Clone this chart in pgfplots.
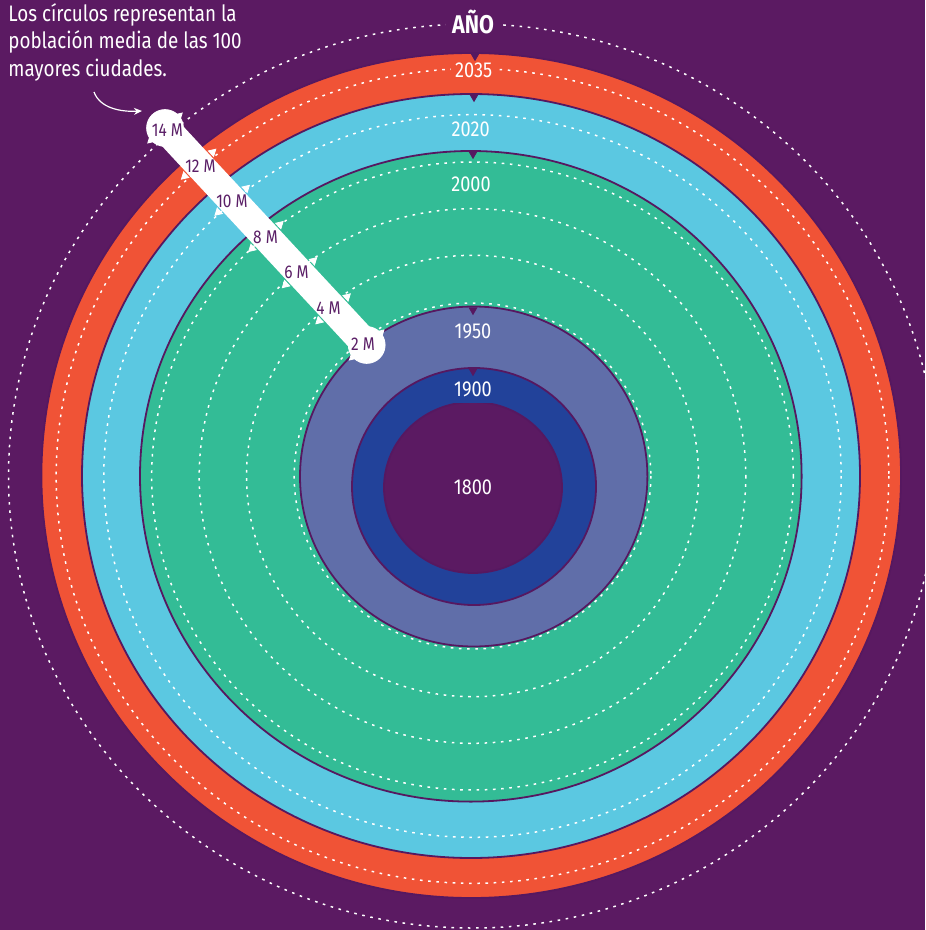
\documentclass[border=0pt]{standalone}
\usepackage{fontspec}
\setmainfont{Fira Sans}[FakeStretch=0.84]
\usepackage{pgfplots}
\usepackage{pgfplotstable}
\pgfplotsset{compat=1.18}
\usetikzlibrary{arrows.meta}

\definecolor{bg}{HTML}{5B1A62}
\definecolor{edge}{HTML}{561860}
\definecolor{c2035}{HTML}{F05336}
\definecolor{c2020}{HTML}{5BC8E1}
\definecolor{c2000}{HTML}{33BC96}
\definecolor{c1950}{HTML}{606EA9}
\definecolor{c1900}{HTML}{22429A}
\definecolor{c1800}{HTML}{5B1A62}
\definecolor{labc}{HTML}{5A1E66}

% rings (image pixels, y downwards): centre, radii, label position
\pgfplotstableread{
year cx    cy    rx    ry    lx    ly
2035 471.2 475.5 429.8 422.5 473.7 70
2020 471.0 476.0 389.0 382.0 470.7 129
2000 470.8 476.3 330.8 325.3 471.0 184
1950 473.7 476.5 173.7 170.0 473.0 331
1900 474.0 486.5 122.0 118.5 473.0 389
1800 473.0 487.5 89.0  85.5  473.0 487
}\rings

% dashed scale circles, 2 M ... 14 M
\pgfplotstableread{
m  cx    cy  rx    ry
2  472.5 476 178.3 173.0
4  472.5 476 226.0 220.7
6  472.5 476 273.3 267.3
8  472.5 476 320.8 314.0
10 472.5 476 368.7 361.3
12 472.5 476 416.3 407.3
14 472.5 476 464.0 452.0
}\grid

% scale bar: point on the bar and label position
\pgfplotstableread[col sep=comma]{
bx,by,x,y,lab
165.0,128.0,167.5,130.0,14 M
198.6,164.2,200.5,166.5,12 M
232.2,200.3,232.0,201.5,10 M
265.9,236.5,265.5,237.0,8 M
299.5,272.7,296.5,272.5,6 M
333.1,308.8,328.5,308.5,4 M
366.7,345.0,363.0,344.5,2 M
}\scalebar

\begin{document}
\begin{tikzpicture}
\begin{axis}[
  at={(0,0)}, anchor=south west,
  x=0.5pt, y=0.5pt,
  xmin=0, xmax=925, ymin=0, ymax=930,
  y dir=reverse,
  enlargelimits=false,
  hide axis,
  clip=true,
]
\fill[bg] (axis cs:0,0) rectangle (axis cs:925,930);

% filled rings, largest first
\pgfplotsinvokeforeach{0,...,5}{
  \pgfplotstablegetelem{#1}{year}\of\rings \let\yr\pgfplotsretval
  \pgfplotstablegetelem{#1}{cx}\of\rings \let\cx\pgfplotsretval
  \pgfplotstablegetelem{#1}{cy}\of\rings \let\cy\pgfplotsretval
  \pgfplotstablegetelem{#1}{rx}\of\rings \let\rx\pgfplotsretval
  \pgfplotstablegetelem{#1}{ry}\of\rings \let\ry\pgfplotsretval
  \edef\tmp{\noexpand\draw[draw=edge, line width=0.9pt, fill=c\yr]
    (axis cs:\cx,\cy) ellipse [x radius=\rx, y radius=\ry];}
  \tmp
}

% dashed circles
\pgfplotsinvokeforeach{0,...,6}{
  \pgfplotstablegetelem{#1}{cx}\of\grid \let\cx\pgfplotsretval
  \pgfplotstablegetelem{#1}{cy}\of\grid \let\cy\pgfplotsretval
  \pgfplotstablegetelem{#1}{rx}\of\grid \let\rx\pgfplotsretval
  \pgfplotstablegetelem{#1}{ry}\of\grid \let\ry\pgfplotsretval
  \edef\tmp{\noexpand\draw[white, line width=0.75pt, dash pattern=on 1.3pt off 2.8pt]
    (axis cs:\cx,\cy) ellipse [x radius=\rx, y radius=\ry];}
  \tmp
}

% little notches at the top of each ring
\addplot[only marks, mark=triangle*, mark size=2.2pt, color=edge,
  mark options={rotate=180}] coordinates {
  (475,56) (474,97) (473,154) (473,310) (473,371)
};

% year labels
\pgfplotsinvokeforeach{0,...,5}{
  \pgfplotstablegetelem{#1}{year}\of\rings \let\yr\pgfplotsretval
  \pgfplotstablegetelem{#1}{lx}\of\rings \let\lx\pgfplotsretval
  \pgfplotstablegetelem{#1}{ly}\of\rings \let\ly\pgfplotsretval
  \edef\tmp{\noexpand\node[text=white, fill=c\yr, inner xsep=2pt, inner ysep=3pt,
    font=\noexpand\fontsize{10.8}{12}\noexpand\selectfont] at (axis cs:\lx,\ly) {\yr};}
  \tmp
}
\node[text=white, fill=bg, inner xsep=3pt, inner ysep=2pt,
  font=\fontsize{12.8}{14}\selectfont\bfseries] at (axis cs:473,22) {AÑO};

% scale bar
\addplot[white, line width=14.5pt, line cap=round, no markers]
  table[x=bx, y=by] {\scalebar};
\addplot[only marks, mark=triangle*, mark size=2.2pt, white, mark options={rotate=-47}]
  table[x expr=\thisrow{bx}+14, y expr=\thisrow{by}-12] {\scalebar};
\addplot[only marks, mark=triangle*, mark size=2.2pt, white, mark options={rotate=133}]
  table[x expr=\thisrow{bx}-14, y expr=\thisrow{by}+12] {\scalebar};
\addplot[only marks, mark=*, mark size=9.2pt, white] coordinates {(165,128) (366.7,345)};
\addplot[draw=none, mark=none, nodes near coords, point meta=explicit symbolic,
  every node near coord/.style={anchor=center, text=labc,
    font=\fontsize{9.2}{10}\selectfont}]
  table[x=x, y=y, meta=lab] {\scalebar};

% note
\node[anchor=north west, align=left, text=white, inner sep=0pt,
  font=\fontsize{11.2}{13.8}\selectfont] at (axis cs:8,3)
  {Los círculos representan la\\población media de las 100\\mayores ciudades.};
\draw[white, line width=0.6pt, -{Stealth[length=4pt, width=3.5pt]}]
  (axis cs:94,92) .. controls (axis cs:100,108) and (axis cs:120,112) .. (axis cs:142,111);
\end{axis}
\pgfresetboundingbox
\path[use as bounding box] (0,0) rectangle (462.5pt,465pt);
\end{tikzpicture}
\end{document}
